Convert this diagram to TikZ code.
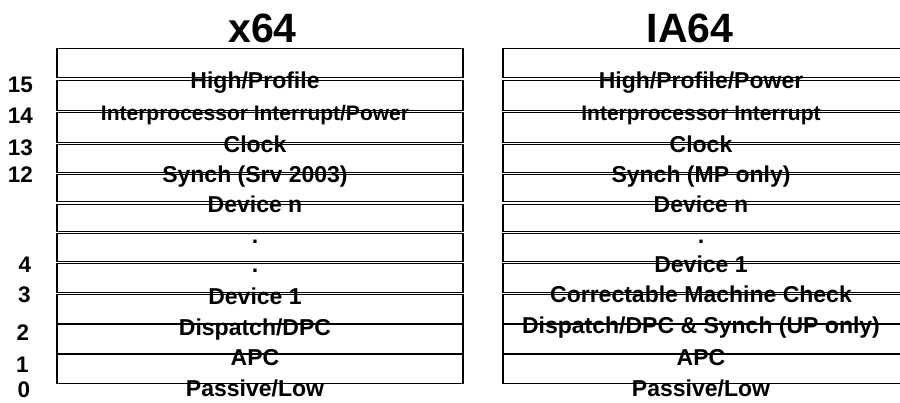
\documentclass[tikz,border=0pt]{standalone}
\usepackage{fontspec}
\setmainfont{Liberation Sans}
\begin{document}
\begin{tikzpicture}[x=1bp,y=-1bp,
  band/.style={draw=black,line width=1.2bp},
  lbl/.style={anchor=base,inner sep=0pt,font=\fontsize{23bp}{23bp}\selectfont\bfseries},
  lblsm/.style={anchor=base,inner sep=0pt,font=\fontsize{21bp}{21bp}\selectfont\bfseries},
  num/.style={anchor=base,inner sep=0pt,font=\fontsize{22.5bp}{22.5bp}\selectfont\bfseries},
  ttl/.style={anchor=base,inner sep=0pt,font=\fontsize{41bp}{41bp}\selectfont\bfseries}]
\useasboundingbox (0,0) rectangle (900,402);
% band rectangles (top/bottom); double lines where neighbours do not touch
\foreach \xl/\xr in {57/463,503/909}{
  \foreach \t/\b in {48.5/77.8, 80.2/110.3, 112.7/142.3, 144.7/172.3, 174.7/201.8,
                     204.2/231.3, 233.7/261.3, 263.7/292.3, 294.7/324, 324/354, 354/383.5}{
    \draw[band] (\xl,\t) rectangle (\xr,\b);
  }
}
% titles
\node[ttl] (t1) at (262.5,42) {x64};
\node[ttl] (t2) at (690,42) {IA64};
% x64 labels
\node[lbl]   (a15) at (255,88)  {High/Profile};
\node[lblsm] (a14) at (255,120) {Interprocessor Interrupt/Power};
\node[lbl]   (a13) at (255,152.5) {Clock};
\node[lbl]   (a12) at (255,182.5) {Synch (Srv 2003)};
\node[lbl]   (an)  at (255,212) {Device n};
\node[lbl]   (ad1) at (255,243.5) {.};
\node[lbl]   (ad2) at (255,272.5) {.};
\node[lbl]   (a3)  at (255,304) {Device 1};
\node[lbl]   (a2)  at (255,335) {Dispatch/DPC};
\node[lbl]   (a1)  at (255,365) {APC};
\node[lbl]   (a0)  at (255,396) {Passive/Low};
% IA64 labels
\node[lbl]   (b15) at (701,88)  {High/Profile/Power};
\node[lblsm] (b14) at (701,120) {Interprocessor Interrupt};
\node[lbl]   (b13) at (701,152.5) {Clock};
\node[lbl]   (b12) at (701,182.5) {Synch (MP only)};
\node[lbl]   (bn)  at (701,212) {Device n};
\node[lbl]   (bd)  at (701,243.5) {.};
\node[lbl]   (b4)  at (701,272) {Device 1};
\node[lbl]   (b3)  at (701,302) {Correctable Machine Check};
\node[lbl]   (b2)  at (701,333.5) {Dispatch/DPC \& Synch (UP only)};
\node[lbl]   (b1)  at (701,365) {APC};
\node[lbl]   (b0)  at (701,396) {Passive/Low};
% IRQL numbers
\node[num] (n15) at (20.5,92)  {15};
\node[num] (n14) at (20.5,123) {14};
\node[num] (n13) at (20.5,155) {13};
\node[num] (n12) at (20.5,182.5) {12};
\node[num] (n4)  at (25,272)   {4};
\node[num] (n3)  at (24.5,302) {3};
\node[num] (n2)  at (23,340)   {2};
\node[num] (n1)  at (22.5,372) {1};
\node[num] (n0)  at (24,397.5) {0};
\end{tikzpicture}
\end{document}
